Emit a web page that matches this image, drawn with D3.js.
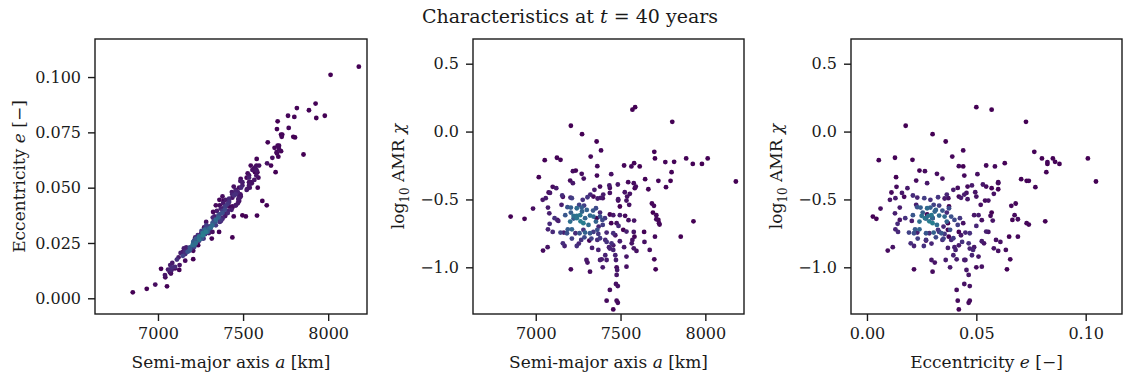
<!DOCTYPE html>
<html>
<head>
<meta charset="utf-8">
<script src="https://cdn.jsdelivr.net/npm/d3@7"></script>
<style>
  body { margin: 0; background: #fff; }
  text { font-family: "DejaVu Serif", "Liberation Serif", serif; fill: #1a1a1a; }
</style>
</head>
<body>
<div class="chart"></div>
<script>
// one entry per debris object, same order in the three arrays
const semiMajor = [
  6852,6934,6984,7018,7053,7041,7059,7043,7070,7100,
  7072,7080,7125,7146,7076,7084,7111,7127,7082,7133,
  7100,7121,7156,7160,7152,7146,7166,7160,7170,7207,
  7273,7359,7385,7324,7699,7703,7764,7816,7887,7926,
  7980,8014,8180,7801,7795,7768,7723,7586,7570,7805,
  7580,7564,7613,7521,7363,7219,7236,7271,7361,7445,
  7203,7219,7283,7545,7578,7590,7645,7664,7379,7434,
  7437,7484,7322,7346,7437,7398,7584,7525,7555,7205,
  7213,7277,7305,7340,7365,7383,7395,7486,7486,7539,
  7535,7551,7496,7685,7697,7187,7207,7242,7256,7271,
  7285,7301,7338,7355,7379,7174,7207,7223,7242,7242,
  7262,7273,7291,7320,7340,7359,7379,7393,7408,7437,
  7457,7496,7527,7691,7711,7711,7723,7930,7203,7223,
  7264,7281,7311,7355,7371,7395,7445,7477,7488,7547,
  7580,7727,7730,7189,7213,7072,7234,7258,7281,7291,
  7320,7340,7363,7369,7418,7457,7469,7516,7535,7578,
  7582,7639,7703,7855,7184,7213,7268,7287,7316,7328,
  7363,7379,7410,7418,7447,7457,7496,7570,7566,7641,
  7242,7254,7332,7369,7432,7437,7457,7521,7578,7594,
  7672,7410,7418,7379,7389,7469,7473,7535,7699,7207,
  7320,7299,7305,7395,7477,7480,7535,7707,7477,7473,
  7484,7437,7418,7477,7484,7457
];

const eccentricity = [
  .0027,.0043,.0062,.0133,.0054,.0105,.0130,.0095,.0118,.0142,
  .0150,.0128,.0128,.0208,.0112,.0160,.0175,.0150,.0140,.0205,
  .0135,.0185,.0210,.0170,.0225,.0192,.0230,.0200,.0215,.0177,
  .0300,.0360,.0440,.0390,.0765,.0800,.0825,.0860,.0850,.0880,
  .0825,.1010,.1047,.0820,.0730,.0770,.0740,.0500,.0570,.0727,
  .0630,.0585,.0440,.0545,.0420,.0265,.0240,.0320,.0445,.0505,
  .0225,.0275,.0345,.0600,.0600,.0545,.0705,.0600,.0460,.0480,
  .0415,.0530,.0365,.0395,.0455,.0445,.0570,.0495,.0580,.0230,
  .0262,.0290,.0325,.0420,.0355,.0430,.0372,.0460,.0540,.0500,
  .0555,.0520,.0375,.0680,.0660,.0230,.0245,.0275,.0305,.0290,
  .0330,.0315,.0345,.0375,.0365,.0210,.0255,.0250,.0280,.0265,
  .0295,.0310,.0300,.0330,.0355,.0300,.0385,.0400,.0425,.0275,
  .0490,.0510,.0565,.0570,.0675,.0690,.0665,.0815,.0240,.0270,
  .0285,.0300,.0320,.0365,.0350,.0415,.0370,.0440,.0500,.0525,
  .0575,.0730,.0740,.0220,.0240,.0130,.0285,.0270,.0325,.0305,
  .0340,.0330,.0380,.0355,.0450,.0470,.0430,.0370,.0545,.0555,
  .0374,.0420,.0690,.0650,.0215,.0232,.0270,.0315,.0270,.0350,
  .0345,.0395,.0385,.0435,.0465,.0420,.0525,.0590,.0535,.0610,
  .0260,.0295,.0370,.0405,.0400,.0470,.0485,.0490,.0580,.0600,
  .0635,.0395,.0445,.0360,.0410,.0480,.0450,.0510,.0655,.0215,
  .0300,.0295,.0310,.0380,.0500,.0455,.0525,.0640,.0465,.0445,
  .0470,.0410,.0415,.0470,.0465,.0420
];

const logAmr = [
  -0.626,-0.643,-0.567,-0.336,-0.211,-0.503,-0.491,-0.877,-0.852,-0.739,
  -0.560,-0.602,-0.193,-0.208,-0.449,-0.452,-0.638,-0.651,-0.680,-0.658,
  -0.407,-0.417,-0.471,-0.481,-0.540,-0.744,-0.744,-0.823,-0.843,0.043,
  -0.019,-0.073,-0.139,-0.184,-0.149,-0.198,-0.225,-0.223,-0.198,-0.238,
  -0.238,-0.198,-0.368,-0.299,-0.363,-0.410,-0.363,0.180,0.161,0.072,
  -0.233,-0.257,-0.257,-0.250,-0.255,-0.292,-0.287,-0.311,-0.324,-0.314,
  -0.361,-0.380,-0.346,-0.373,-0.380,-0.405,-0.351,-0.425,-0.405,-0.397,
  -0.415,-0.390,-0.464,-0.429,-0.452,-0.464,-0.417,-0.447,-0.459,-0.486,
  -0.491,-0.503,-0.484,-0.479,-0.493,-0.488,-0.491,-0.498,-0.508,-0.479,
  -0.508,-0.540,-0.552,-0.530,-0.547,-0.557,-0.560,-0.565,-0.540,-0.560,
  -0.545,-0.577,-0.582,-0.565,-0.597,-0.616,-0.597,-0.621,-0.621,-0.638,
  -0.616,-0.589,-0.638,-0.619,-0.626,-0.638,-0.626,-0.651,-0.638,-0.611,
  -0.616,-0.616,-0.621,-0.597,-0.616,-0.646,-0.651,-0.661,-0.663,-0.641,
  -0.661,-0.675,-0.688,-0.663,-0.700,-0.688,-0.675,-0.675,-0.695,-0.653,
  -0.656,-0.675,-0.685,-0.720,-0.720,-0.720,-0.749,-0.749,-0.724,-0.744,
  -0.749,-0.739,-0.724,-0.754,-0.744,-0.749,-0.764,-0.724,-0.737,-0.739,
  -0.774,-0.739,-0.774,-0.774,-0.749,-0.788,-0.798,-0.779,-0.803,-0.788,
  -0.798,-0.786,-0.798,-0.813,-0.823,-0.838,-0.808,-0.798,-0.823,-0.813,
  -0.843,-0.825,-0.857,-0.872,-0.852,-0.862,-0.872,-0.852,-0.860,-0.879,
  -0.872,-0.911,-0.946,-0.946,-0.941,-0.911,-0.946,-0.921,-0.941,-1.015,
  -1.032,-0.946,-0.965,-1.000,-1.000,-1.020,-0.995,-1.015,-1.056,-1.123,
  -1.138,-1.167,-1.246,-1.246,-1.261,-1.310
];

const aTicks = [7000, 7500, 8000];
const eTicksY = [0, 0.025, 0.05, 0.075, 0.1];
const eTicksX = [0, 0.05, 0.1];
const chiTicks = [-1, -0.5, 0, 0.5];

const width = 1123, height = 379;
const plotTop = 39, plotBottom = 314;
const fontFamily = '"DejaVu Serif", "Liberation Serif", serif';

var svg = d3.select('.chart').append('svg')
    .attr('width', width)
    .attr('height', height);

// gaussian kde over (a, e, chi) with full covariance
var pts = semiMajor.map((a, i) => [a, eccentricity[i], logAmr[i]]);
var n = pts.length;
var mean = [0, 1, 2].map(k => d3.mean(pts, p => p[k]));
var cov = [0, 1, 2].map(i => [0, 1, 2].map(j =>
    d3.sum(pts, p => (p[i] - mean[i]) * (p[j] - mean[j])) / (n - 1)));
var f = 0.75 * Math.pow(n, -1 / 7);
var c = cov.map(r => r.map(v => v * f * f));
var det = c[0][0] * (c[1][1] * c[2][2] - c[1][2] * c[2][1])
        - c[0][1] * (c[1][0] * c[2][2] - c[1][2] * c[2][0])
        + c[0][2] * (c[1][0] * c[2][1] - c[1][1] * c[2][0]);
var inv = [
  [(c[1][1]*c[2][2]-c[1][2]*c[2][1])/det, (c[0][2]*c[2][1]-c[0][1]*c[2][2])/det, (c[0][1]*c[1][2]-c[0][2]*c[1][1])/det],
  [(c[1][2]*c[2][0]-c[1][0]*c[2][2])/det, (c[0][0]*c[2][2]-c[0][2]*c[2][0])/det, (c[0][2]*c[1][0]-c[0][0]*c[1][2])/det],
  [(c[1][0]*c[2][1]-c[1][1]*c[2][0])/det, (c[0][1]*c[2][0]-c[0][0]*c[2][1])/det, (c[0][0]*c[1][1]-c[0][1]*c[1][0])/det]
];
var density = pts.map(p => d3.sum(pts, q => {
  var d = [p[0] - q[0], p[1] - q[1], p[2] - q[2]];
  var m = 0;
  for (var i = 0; i < 3; i++) for (var j = 0; j < 3; j++) m += d[i] * inv[i][j] * d[j];
  return Math.exp(-0.5 * m);
}));

var colorT = d3.scalePow().exponent(1.4).domain(d3.extent(density)).range([0, 0.42]);
var points = pts.map((p, i) => ({a: p[0], e: p[1], chi: p[2], dens: density[i]}))
    .sort((u, v) => u.dens - v.dens);

var fmt3 = d3.format('.3f'), fmt2 = d3.format('.2f'), fmt1 = d3.format('.1f');

var panels = [
  {left: 95,  right: 367,  x: 'a', y: 'e',
   xDomain: [6630, 8228], yDomain: [-0.0071, 0.1172],
   xTicks: aTicks, yTicks: eTicksY, xFmt: d3.format('d'), yFmt: fmt3,
   xLabel: 'a', yLabel: 'ecc', yLabelX: 19},
  {left: 473, right: 744,  x: 'a', y: 'chi',
   xDomain: [6630, 8228], yDomain: [-1.344, 0.682],
   xTicks: aTicks, yTicks: chiTicks, xFmt: d3.format('d'), yFmt: fmt1,
   xLabel: 'a', yLabel: 'amr', yLabelX: 398},
  {left: 851, right: 1122, x: 'e', y: 'chi',
   xDomain: [-0.0073, 0.1166], yDomain: [-1.344, 0.682],
   xTicks: eTicksX, yTicks: chiTicks, xFmt: fmt2, yFmt: fmt1,
   xLabel: 'e', yLabel: 'amr', yLabelX: 776}
];

// writes a label with italic / subscript pieces
function label(sel, kind) {
  if (kind === 'a') {
    sel.append('tspan').text('Semi-major axis ');
    sel.append('tspan').attr('font-style', 'italic').text('a');
    sel.append('tspan').text(' [km]');
  } else if (kind === 'e' || kind === 'ecc') {
    sel.append('tspan').text('Eccentricity ');
    sel.append('tspan').attr('font-style', 'italic').text('e');
    sel.append('tspan').text(' [\u2212]');
  } else {
    sel.append('tspan').text('log');
    sel.append('tspan').attr('font-size', '12px').attr('dy', 5).text('10');
    sel.append('tspan').attr('dy', -5).text(' AMR ');
    sel.append('tspan').attr('font-style', 'italic').text('\u03c7');
  }
}

panels.forEach((p) => {
  var x = d3.scaleLinear().domain(p.xDomain).range([p.left, p.right]);
  var y = d3.scaleLinear().domain(p.yDomain).range([plotBottom, plotTop]);
  var g = svg.append('g');

  g.append('clipPath').attr('id', 'clip' + p.left)
    .append('rect')
      .attr('x', p.left).attr('y', plotTop)
      .attr('width', p.right - p.left).attr('height', plotBottom - plotTop);

  g.append('g')
      .attr('clip-path', 'url(#clip' + p.left + ')')
    .selectAll('circle')
    .data(points)
    .enter().append('circle')
      .attr('cx', (d) => x(d[p.x]))
      .attr('cy', (d) => y(d[p.y]))
      .attr('r', 2.4)
      .style('fill', (d) => d3.interpolateViridis(colorT(d.dens)));

  var xAxis = g.append('g')
      .attr('transform', 'translate(0,' + plotBottom + ')')
      .call(d3.axisBottom(x).tickValues(p.xTicks).tickFormat(p.xFmt)
            .tickSize(7).tickPadding(7));
  var yAxis = g.append('g')
      .attr('transform', 'translate(' + p.left + ',0)')
      .call(d3.axisLeft(y).tickValues(p.yTicks).tickFormat(p.yFmt)
            .tickSize(7).tickPadding(7));

  [xAxis, yAxis].forEach((ax) => {
    ax.select('.domain').remove();
    ax.selectAll('line').attr('stroke', '#1a1a1a').attr('stroke-width', 1.4);
    ax.selectAll('text').attr('font-size', '16px')
      .attr('font-family', fontFamily).attr('fill', '#1a1a1a');
  });

  g.append('rect')
      .attr('x', p.left).attr('y', plotTop)
      .attr('width', p.right - p.left).attr('height', plotBottom - plotTop)
      .attr('fill', 'none').attr('stroke', '#1a1a1a').attr('stroke-width', 1.4);

  g.append('text')
      .attr('x', (p.left + p.right) / 2).attr('y', 368)
      .attr('text-anchor', 'middle')
      .attr('font-size', '17px')
      .call(label, p.xLabel);

  g.append('text')
      .attr('transform', 'translate(' + p.yLabelX + ',' + (plotTop + plotBottom) / 2 + ') rotate(-90)')
      .attr('dy', '0.35em')
      .attr('text-anchor', 'middle')
      .attr('font-size', '17px')
      .call(label, p.yLabel);
});

var title = svg.append('text')
    .attr('x', 570).attr('y', 23)
    .attr('text-anchor', 'middle')
    .attr('font-size', '19px');
title.append('tspan').text('Characteristics at ');
title.append('tspan').attr('font-style', 'italic').text('t');
title.append('tspan').text(' = 40 years');
</script>
</body>
</html>
